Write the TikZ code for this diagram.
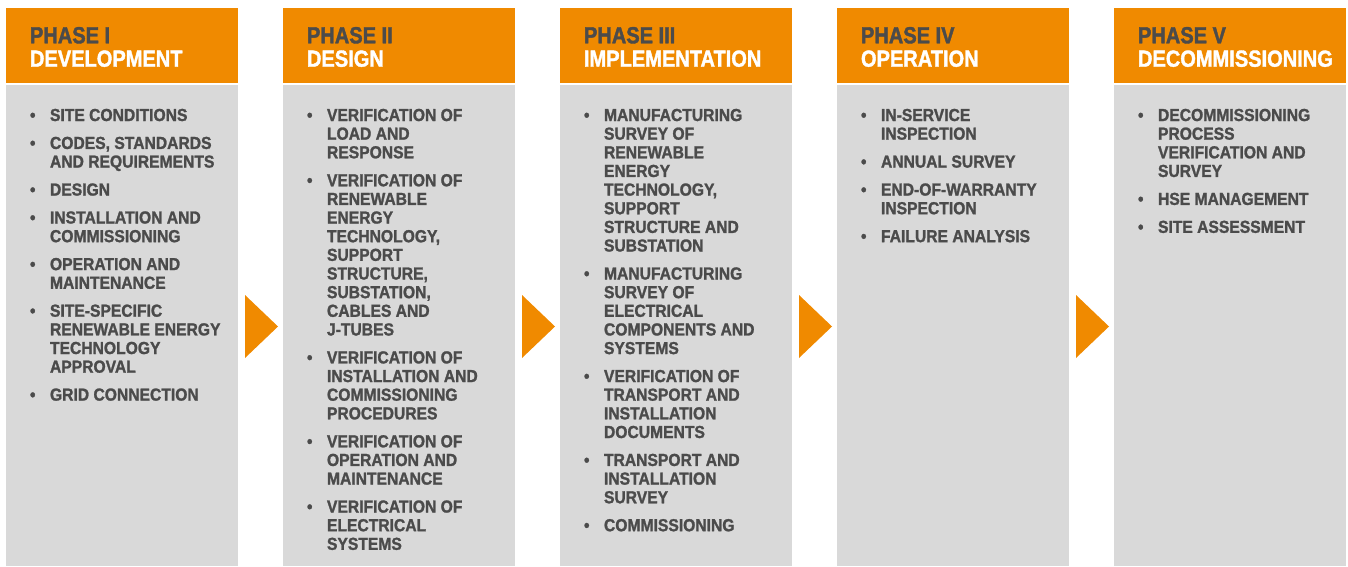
\documentclass[tikz,border=0pt]{standalone}
\usepackage{fontspec}
\newfontfamily\phfont[FakeStretch=0.86,FakeBold=1.6]{Liberation Sans}
\newfontfamily\itfont[FakeStretch=0.9,FakeBold=1.4]{Liberation Sans}
\definecolor{dnvorange}{RGB}{240,138,0}
\definecolor{panelgrey}{RGB}{217,217,217}
\definecolor{txtgrey}{RGB}{75,75,75}
\newcommand\bl[1]{\hbox{\makebox[20pt][l]{\textbullet}#1}}
\newcommand\cl[1]{\hbox{\hspace{20pt}#1}}
\newcommand\gp{\vskip9.3pt}
\newcommand\hdtext[2]{\vtop{\phfont\bfseries\fontsize{23.3}{23.4}\selectfont
  \hbox{\color{txtgrey}#1}\hbox{\color{white}#2}}}
\newcommand\bdtext[1]{\color{txtgrey}\vtop{\itfont\bfseries\fontsize{17.4}{18.65}\selectfont #1}}
\tikzset{
  hdrbox/.style={anchor=north west, fill=dnvorange, minimum width=232pt, minimum height=75.3pt, inner sep=0pt, outer sep=0pt},
  bodybox/.style={anchor=north west, fill=panelgrey, minimum width=232pt, minimum height=480.7pt, inner sep=0pt, outer sep=0pt},
  hdlabel/.style={anchor=base west, inner sep=0pt, outer sep=0pt},
  itemlist/.style={anchor=base west, inner sep=0pt, outer sep=0pt},
  chevron/.style={fill=dnvorange}
}
\begin{document}
\begin{tikzpicture}[x=1pt,y=-1pt]
\useasboundingbox (0,0) rectangle (1348,566);
% column boxes
\foreach \i/\xx in {1/6,2/283,3/560,4/837,5/1114}{
  \node[hdrbox] (h\i) at (\xx,8) {};
  \node[bodybox] (b\i) at (\xx,85.3) {};
}
% arrows
\foreach \xx in {245,522,799,1076}{
  \fill[chevron] (\xx,295) -- (\xx+33,326.5) -- (\xx,358) -- cycle;
}
% headers
\node[hdlabel] (t1) at (30,43.3) {\hdtext{PHASE I}{DEVELOPMENT}};
\node[hdlabel] (t2) at (307,43.3) {\hdtext{PHASE II}{DESIGN}};
\node[hdlabel] (t3) at (584,43.3) {\hdtext{PHASE III}{IMPLEMENTATION}};
\node[hdlabel] (t4) at (861,43.3) {\hdtext{PHASE IV}{OPERATION}};
\node[hdlabel] (t5) at (1138,43.3) {\hdtext{PHASE V}{DECOMMISSIONING}};
% lists
\node[itemlist] (l1) at (30,121) {\bdtext{%
\bl{SITE CONDITIONS}\gp
\bl{CODES, STANDARDS}\cl{AND REQUIREMENTS}\gp
\bl{DESIGN}\gp
\bl{INSTALLATION AND}\cl{COMMISSIONING}\gp
\bl{OPERATION AND}\cl{MAINTENANCE}\gp
\bl{SITE-SPECIFIC}\cl{RENEWABLE ENERGY}\cl{TECHNOLOGY}\cl{APPROVAL}\gp
\bl{GRID CONNECTION}}};
\node[itemlist] (l2) at (307,121) {\bdtext{%
\bl{VERIFICATION OF}\cl{LOAD AND}\cl{RESPONSE}\gp
\bl{VERIFICATION OF}\cl{RENEWABLE}\cl{ENERGY}\cl{TECHNOLOGY,}\cl{SUPPORT}\cl{STRUCTURE,}\cl{SUBSTATION,}\cl{CABLES AND}\cl{J-TUBES}\gp
\bl{VERIFICATION OF}\cl{INSTALLATION AND}\cl{COMMISSIONING}\cl{PROCEDURES}\gp
\bl{VERIFICATION OF}\cl{OPERATION AND}\cl{MAINTENANCE}\gp
\bl{VERIFICATION OF}\cl{ELECTRICAL}\cl{SYSTEMS}}};
\node[itemlist] (l3) at (584,121) {\bdtext{%
\bl{MANUFACTURING}\cl{SURVEY OF}\cl{RENEWABLE}\cl{ENERGY}\cl{TECHNOLOGY,}\cl{SUPPORT}\cl{STRUCTURE AND}\cl{SUBSTATION}\gp
\bl{MANUFACTURING}\cl{SURVEY OF}\cl{ELECTRICAL}\cl{COMPONENTS AND}\cl{SYSTEMS}\gp
\bl{VERIFICATION OF}\cl{TRANSPORT AND}\cl{INSTALLATION}\cl{DOCUMENTS}\gp
\bl{TRANSPORT AND}\cl{INSTALLATION}\cl{SURVEY}\gp
\bl{COMMISSIONING}}};
\node[itemlist] (l4) at (861,121) {\bdtext{%
\bl{IN-SERVICE}\cl{INSPECTION}\gp
\bl{ANNUAL SURVEY}\gp
\bl{END-OF-WARRANTY}\cl{INSPECTION}\gp
\bl{FAILURE ANALYSIS}}};
\node[itemlist] (l5) at (1138,121) {\bdtext{%
\bl{DECOMMISSIONING}\cl{PROCESS}\cl{VERIFICATION AND}\cl{SURVEY}\gp
\bl{HSE MANAGEMENT}\gp
\bl{SITE ASSESSMENT}}};
\end{tikzpicture}
\end{document}
